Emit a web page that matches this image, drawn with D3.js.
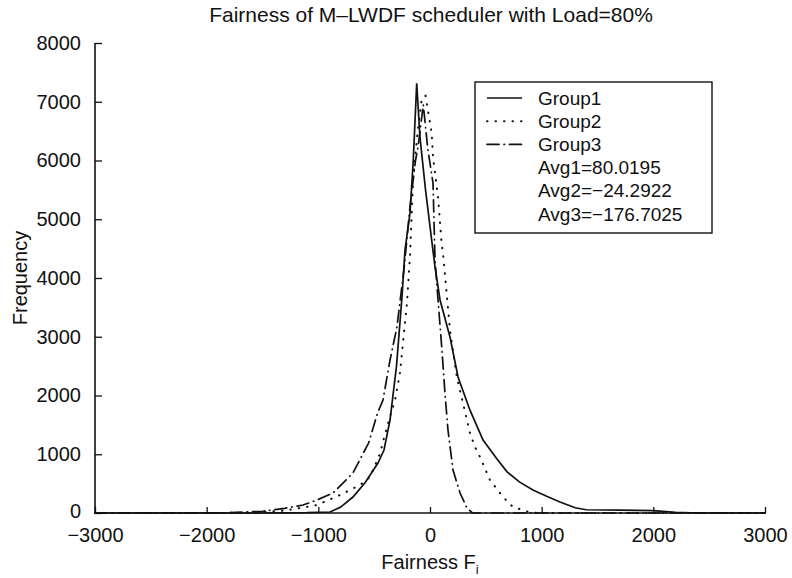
<!DOCTYPE html>
<html>
<head>
<meta charset="utf-8">
<script src="https://cdn.jsdelivr.net/npm/d3@7"></script>
<style>
  body { margin: 0; background: #fff; }
  svg { font-family: "Liberation Sans", Arial, sans-serif; }
</style>
</head>
<body>
<div id="chart"></div>
<script>
// --- Data: [fairness, frequency] ---
const group1 = [[-3000,0],[-1500,0],[-1100,5],[-895,17],[-800,100],[-690,272],[-580,520],[-466,851],[-412,1072],
  [-358,1583],[-300,2500],[-250,3700],[-224,4476],[-179,5106],[-150,6000],[-119,7314],[-90,6400],[-40,5500],
  [15,4646],[45,4187],[90,3626],[179,2996],[251,2315],[358,1750],[475,1242],[600,920],[690,700],[800,530],
  [922,391],[1050,280],[1164,187],[1300,90],[1400,55],[1700,50],[2000,40],[2200,10],[2400,0],[3000,0]];
const group2 = [[-3000,0],[-2000,0],[-1600,5],[-1300,40],[-1012,136],[-806,306],[-627,476],[-537,613],[-450,1000],
  [-380,1500],[-313,1923],[-269,2383],[-206,3574],[-179,4391],[-152,5668],[-110,6500],[-74,7058],[-40,7100],
  [15,6468],[27,6060],[72,5379],[104,4596],[118,4391],[179,3115],[240,2315],[358,1362],[403,1123],[448,953],
  [537,562],[654,272],[743,102],[833,51],[900,5],[1000,0],[3000,0]];
const group3 = [[-3000,0],[-2200,0],[-1800,5],[-1500,30],[-1300,80],[-1137,136],[-1012,221],[-869,340],[-690,681],
  [-550,1191],[-470,1700],[-421,1923],[-358,2604],[-296,3166],[-230,4200],[-180,5200],[-130,6000],[-107,6230],
  [-60,6950],[-20,6200],[27,5617],[45,4306],[72,3626],[107,2774],[134,2043],[161,1413],[206,732],[269,340],
  [331,85],[380,0],[3000,0]];

const seriesNames = ["Group1", "Group2", "Group3"];
const avgLabels = ["Avg1=80.0195", "Avg2=\u221224.2922", "Avg3=\u2212176.7025"];
const xTicks = [-3000, -2000, -1000, 0, 1000, 2000, 3000];
const yTicks = [0, 1000, 2000, 3000, 4000, 5000, 6000, 7000, 8000];

const W = 792, H = 578;
const margin = { left: 95, right: 27, top: 43, bottom: 65 };

const svg = d3.select("#chart").append("svg")
    .attr("width", W)
    .attr("height", H);

const x = d3.scaleLinear().domain([-3000, 3000]).range([margin.left, W - margin.right]);
const y = d3.scaleLinear().domain([0, 8000]).range([H - margin.bottom, margin.top]);

// axes: MATLAB style, ticks inside
const fmt = d => d < 0 ? "\u2212" + Math.abs(d) : String(d);

const xAxis = svg.append("g")
    .attr("transform", `translate(0,${y(0)})`)
    .call(d3.axisBottom(x).tickValues(xTicks).tickSize(-6).tickPadding(15).tickFormat(fmt));
const yAxis = svg.append("g")
    .attr("transform", `translate(${x(-3000)},0)`)
    .call(d3.axisLeft(y).tickValues(yTicks).tickSize(-7).tickPadding(14).tickFormat(fmt));

[xAxis, yAxis].forEach(g => {
    g.select(".domain").attr("stroke", "#111").attr("stroke-width", 1.6);
    g.selectAll(".tick line").attr("stroke", "#111").attr("stroke-width", 1.3);
    g.selectAll(".tick text").attr("fill", "#111").style("font-size", "20px");
});
xAxis.select(".domain").attr("d", `M${x(-3000)},0H${x(3000)}`);
yAxis.select(".domain").attr("d", `M0,${y(8000)}V${y(0)}`);
// the "0" label sits a touch higher so it clears the "-3000" below it
yAxis.selectAll(".tick text").filter(d => d === 0).attr("dy", "0.2em");

// curves
const line = d3.line().x(d => x(d[0])).y(d => y(d[1]));
const styles = [
    { dash: null, width: 1.7, cap: "butt" },
    { dash: "0.5,8", width: 2, cap: "round" },
    { dash: "12,5,0.5,5", width: 1.7, cap: "round" }
];
[group1, group2, group3].forEach((data, i) => {
    svg.append("path")
        .datum(data)
        .attr("fill", "none")
        .attr("stroke", "#111")
        .attr("stroke-width", styles[i].width)
        .attr("stroke-linecap", styles[i].cap)
        .attr("stroke-dasharray", styles[i].dash)
        .attr("d", line);
});

// title and labels
svg.append("text")
    .attr("x", 431).attr("y", 22)
    .attr("text-anchor", "middle")
    .style("font-size", "21px").attr("fill", "#111")
    .text("Fairness of M\u2013LWDF scheduler with Load=80%");

svg.append("text")
    .attr("transform", "translate(27,278) rotate(-90)")
    .attr("text-anchor", "middle")
    .style("font-size", "20px").attr("fill", "#111")
    .text("Frequency");

const xl = svg.append("text")
    .attr("x", 430).attr("y", 569)
    .attr("text-anchor", "middle")
    .style("font-size", "20px").attr("fill", "#111");
xl.append("tspan").text("Fairness F");
xl.append("tspan").attr("dy", 5).style("font-size", "13px").text("i");

// legend
const lg = svg.append("g").attr("transform", "translate(475,82)");
lg.append("rect")
    .attr("width", 237).attr("height", 151)
    .attr("fill", "#fff").attr("stroke", "#111").attr("stroke-width", 1.4);
const rowY = i => 16 + i * 23.2;
seriesNames.forEach((name, i) => {
    lg.append("line")
        .attr("x1", 12).attr("x2", 47)
        .attr("y1", rowY(i)).attr("y2", rowY(i))
        .attr("stroke", "#111")
        .attr("stroke-width", styles[i].width)
        .attr("stroke-linecap", styles[i].cap)
        .attr("stroke-dasharray", styles[i].dash);
});
seriesNames.concat(avgLabels).forEach((t, i) => {
    lg.append("text")
        .attr("x", 63).attr("y", rowY(i))
        .attr("dy", "0.35em")
        .style("font-size", "19px").attr("fill", "#111")
        .text(t);
});
</script>
</body>
</html>
